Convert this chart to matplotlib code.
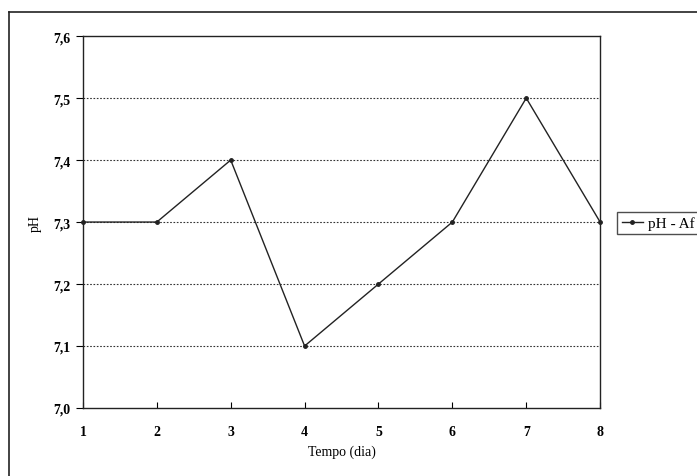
"""pH over time for Af sample."""

import matplotlib.pyplot as plt
from matplotlib.lines import Line2D
from matplotlib.ticker import FuncFormatter

dias = [1, 2, 3, 4, 5, 6, 7, 8]
ph_af = [7.3, 7.3, 7.4, 7.1, 7.2, 7.3, 7.5, 7.3]
y_ticks = [7.0, 7.1, 7.2, 7.3, 7.4, 7.5, 7.6]


def main() -> None:
    plt.rcParams["font.family"] = ["Liberation Serif", "DejaVu Serif"]
    fig = plt.figure(figsize=(6.97, 4.77), dpi=100)
    ax = fig.add_axes([0.119, 0.1426, 0.742, 0.7796])

    # outer frame of the chart area, cut at right and bottom edges
    fig.add_artist(Line2D([9 / 697, 9 / 697], [0, 1 - 13 / 477],
                          transform=fig.transFigure, color="#222222", lw=1.2))
    fig.add_artist(Line2D([9 / 697, 1], [1 - 13 / 477, 1 - 13 / 477],
                          transform=fig.transFigure, color="#222222", lw=1.2))

    ax.plot(dias, ph_af, color="#222222", lw=1.0, marker="o", markersize=2.5,
            label="pH - Af", clip_on=False)
    ax.set_xlim(1, 8)
    ax.set_ylim(7.0, 7.6)
    ax.set_xticks(dias)
    ax.set_yticks(y_ticks)
    ax.yaxis.set_major_formatter(FuncFormatter(lambda v, _: f"{v:.1f}".replace(".", ",")))
    ax.tick_params(axis="x", direction="in", length=4, labelsize=10, pad=12)
    ax.tick_params(axis="y", direction="out", length=5, labelsize=10, pad=4)
    for lbl in ax.get_xticklabels() + ax.get_yticklabels():
        lbl.set_fontweight("bold")
    ax.set_xlabel("Tempo (dia)", fontsize=10, labelpad=5)
    ax.set_ylabel("pH", fontsize=10, labelpad=8)
    for y in y_ticks[1:-1]:
        ax.axhline(y, color="#333333", lw=0.8, ls=(0, (1.5, 1.5)), zorder=0)
    for s in ax.spines.values():
        s.set_color("#222222")
        s.set_linewidth(1.0)

    leg = ax.legend(loc="center left", bbox_to_anchor=(617 / 697, 1 - 224 / 477),
                    bbox_transform=fig.transFigure, fontsize=11, frameon=True,
                    fancybox=False, edgecolor="#222222", handlelength=1.4,
                    handletextpad=0.3, borderpad=0.3, borderaxespad=0)
    leg.get_frame().set_linewidth(1.0)

    fig.savefig("out.png", dpi=100)


if __name__ == "__main__":
    main()
